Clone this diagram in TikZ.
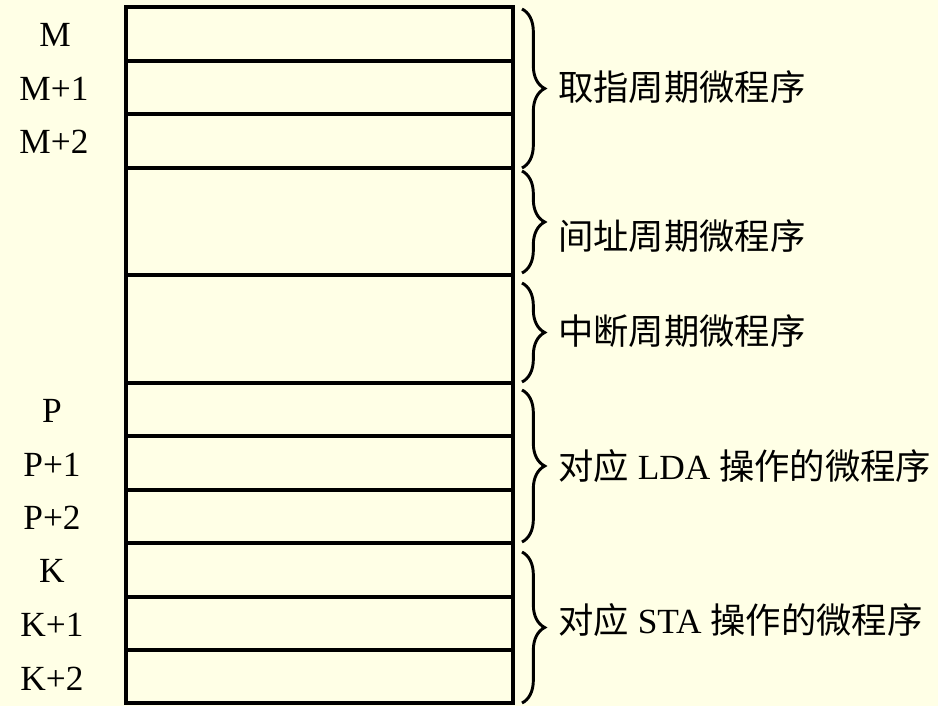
\documentclass[tikz,border=0pt]{standalone}
\usepackage{fontspec}
\setmainfont{Liberation Serif}
\newfontfamily\cjk{Noto Sans CJK SC}
\usetikzlibrary{calc,decorations.pathreplacing}
\definecolor{paper}{RGB}{255,255,230}
\newcommand{\txtsize}{\fontsize{26.5}{30}\selectfont}
\newcommand{\makebrace}[5]{
	\coordinate (#1top) at (522,#2);
	\coordinate (#1bot) at (522,#3);
	\draw[brace] (#1top) -- (#1bot);
	\node[part] (#1) at ($(#1top)!0.5!(#1bot)+(36,#5)$) {#4};
}

\begin{document}
\begin{tikzpicture}[x=0.75pt,y=-0.75pt,
	cell/.style={draw, line width=2.5pt},
	addr/.style={font=\txtsize, inner sep=0pt},
	part/.style={font=\txtsize, anchor=west, inner sep=0pt},
	brace/.style={decorate, decoration={brace, amplitude=17pt}, line width=2.2pt}]
	\fill[paper] (0,0) rectangle (938,706);
	\useasboundingbox (0,0) rectangle (938,706);

	% rows of the control store
	\foreach \a/\b in {7/61,61/114,114/168,168/275,275/383,383/436,436/490,490/543,543/597,597/650,650/703}
		\draw[cell] (126,\a) rectangle (513,\b);

	% addresses
	\node[addr] (m0) at (55,35) {M};
	\node[addr] (m1) at (54,89) {M+1};
	\node[addr] (m2) at (54,142) {M+2};
	\node[addr] (p0) at (52,411) {P};
	\node[addr] (p1) at (52,465) {P+1};
	\node[addr] (p2) at (52,518) {P+2};
	\node[addr] (k0) at (52,571) {K};
	\node[addr] (k1) at (52,625) {K+1};
	\node[addr] (k2) at (52,679) {K+2};

	\makebrace{fetch}{9}{168}{\cjk 取指周期微程序}{-1}
	\makebrace{indir}{171}{273}{\cjk 间址周期微程序}{14}
	\makebrace{intr}{283}{382}{\cjk 中断周期微程序}{-1}
	\makebrace{lda}{390}{542}{{\cjk 对应} LDA {\cjk 操作的微程序}}{0}
	\makebrace{sta}{552}{703}{{\cjk 对应} STA {\cjk 操作的微程序}}{-7}
\end{tikzpicture}
\end{document}
